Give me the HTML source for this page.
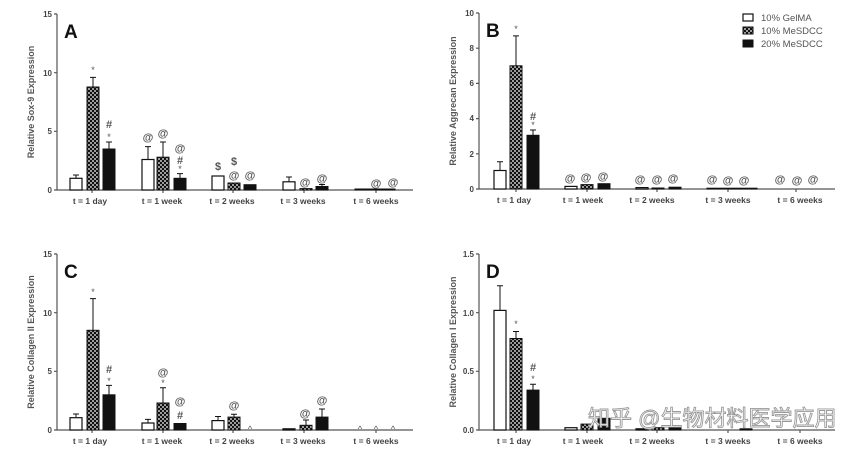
<!DOCTYPE html>
<html><head><meta charset="utf-8"><style>
html,body{margin:0;padding:0;background:#fff;}
svg{display:block;}
text{font-family:"Liberation Sans",sans-serif;}
.t{font-size:8px;fill:#444;font-weight:bold;}
.c{font-size:8.5px;font-weight:bold;fill:#444;text-anchor:middle;}
.y{font-size:9px;font-weight:bold;fill:#555;text-anchor:middle;}
.P{font-size:19px;font-weight:bold;fill:#111;}
.a{font-size:11px;fill:#555;text-anchor:middle;font-weight:bold;}
.s{font-size:9px;fill:#555;text-anchor:middle;}
.ax{stroke:#555;stroke-width:1.2;fill:none;}
.w{fill:#fff;stroke:#111;stroke-width:1.2;}
.k{fill:url(#chk);stroke:#111;stroke-width:1;}
.b{fill:#111;stroke:#111;stroke-width:1;}
.e{stroke:#111;stroke-width:1;}
</style></head><body>
<svg width="865" height="453" viewBox="0 0 865 453" xmlns="http://www.w3.org/2000/svg">
<defs>
<pattern id="chk" width="4" height="4" patternUnits="userSpaceOnUse">
<rect width="4" height="4" fill="#111"/>
<circle cx="1" cy="1" r="0.9" fill="#fff"/><circle cx="3" cy="3" r="0.9" fill="#fff"/>
</pattern>
</defs>

<!-- ===== Panel A ===== -->
<g>
<path class="ax" d="M57,14 V190 H413"/>
<path class="ax" d="M54,14H57M54,72.7H57M54,131.3H57M54,190H57"/>
<text class="t" x="52" y="17" text-anchor="end">15</text>
<text class="t" x="52" y="76" text-anchor="end">10</text>
<text class="t" x="52" y="134" text-anchor="end">5</text>
<text class="t" x="52" y="193" text-anchor="end">0</text>
<text class="y" transform="translate(34,102) rotate(-90)">Relative Sox-9  Expression</text>
<text class="P" x="64" y="38">A</text>
<path class="ax" d="M92,190v3M163,190v3M233,190v3M304,190v3M376,190v3"/>
<text class="c" x="90" y="204">t = 1 day</text>
<text class="c" x="162" y="204">t = 1 week</text>
<text class="c" x="232" y="204">t = 2 weeks</text>
<text class="c" x="303" y="204">t = 3 weeks</text>
<text class="c" x="376" y="204">t = 6 weeks</text>
<path class="e" d="M76,178V175M73,175H79M93,87V77.4M90,77.4H96M109,149V142M106,142H112"/>
<rect class="w" x="70" y="178.3" width="12" height="11.7"/>
<rect class="k" x="87" y="87" width="12" height="103"/>
<rect class="b" x="103" y="149" width="12" height="41"/>
<path class="e" d="M148,159V146.6M145,146.6H151M163,157V142M160,142H166M180,178V173.6M177,173.6H183"/>
<rect class="w" x="142" y="159.5" width="12" height="30.5"/>
<rect class="k" x="157" y="157.2" width="12" height="32.8"/>
<rect class="b" x="174" y="178.3" width="12" height="11.7"/>
<rect class="w" x="212" y="176" width="12" height="14"/>
<rect class="k" x="228" y="183" width="12" height="7"/>
<rect class="b" x="244" y="184.7" width="12" height="5.3"/>
<path class="e" d="M289,182V177M286,177H292M322,186V184.5M319,184.5H325"/>
<rect class="w" x="283" y="181.8" width="12" height="8.2"/>
<rect class="k" x="300" y="188.6" width="12" height="1.4"/>
<rect class="b" x="316" y="186.5" width="12" height="3.5"/>
<rect class="b" x="355" y="189" width="40" height="1"/>
<text class="s" x="93" y="73">*</text>
<text class="a" x="109" y="128">#</text><text class="s" x="109" y="140">*</text>
<text class="a" x="148" y="141">@</text><text class="a" x="163" y="137">@</text>
<text class="a" x="180" y="152">@</text><text class="a" x="180" y="164">#</text><text class="s" x="180" y="172">*</text>
<text class="a" x="218" y="170">$</text><text class="a" x="234" y="165">$</text>
<text class="a" x="234" y="179">@</text><text class="a" x="250" y="179">@</text>
<text class="a" x="305" y="186">@</text><text class="a" x="322" y="182">@</text>
<text class="a" x="376" y="187">@</text><text class="a" x="393" y="186">@</text>
</g>

<!-- ===== Panel B ===== -->
<g>
<path class="ax" d="M479,13 V189 H835"/>
<path class="ax" d="M476,13H479M476,48.2H479M476,83.4H479M476,118.6H479M476,153.8H479M476,189H479"/>
<text class="t" x="474" y="16" text-anchor="end">10</text>
<text class="t" x="474" y="51" text-anchor="end">8</text>
<text class="t" x="474" y="86" text-anchor="end">6</text>
<text class="t" x="474" y="121" text-anchor="end">4</text>
<text class="t" x="474" y="157" text-anchor="end">2</text>
<text class="t" x="474" y="192" text-anchor="end">0</text>
<text class="y" transform="translate(456,101) rotate(-90)">Relative Aggrecan Expression</text>
<text class="P" x="486" y="37">B</text>
<path class="ax" d="M516,189v3M587,189v3M657,189v3M728,189v3M796,189v3"/>
<text class="c" x="514" y="203">t = 1 day</text>
<text class="c" x="583" y="203">t = 1 week</text>
<text class="c" x="652" y="203">t = 2 weeks</text>
<text class="c" x="728" y="203">t = 3 weeks</text>
<text class="c" x="800" y="203">t = 6 weeks</text>
<path class="e" d="M500,170V161.7M497,161.7H503M516,66V35.9M513,35.9H519M533,135V130M530,130H536"/>
<rect class="w" x="494" y="170.5" width="12" height="18.5"/>
<rect class="k" x="510" y="65.8" width="12" height="123.2"/>
<rect class="b" x="527" y="135.3" width="12" height="53.7"/>
<rect class="w" x="565" y="186.4" width="12" height="2.6"/>
<rect class="k" x="581" y="184.6" width="12" height="4.4"/>
<rect class="b" x="598" y="183.7" width="12" height="5.3"/>
<rect class="w" x="636" y="187.6" width="12" height="1.4"/>
<rect class="k" x="652" y="188" width="12" height="1"/>
<rect class="b" x="669" y="187.2" width="12" height="1.8"/>
<rect class="b" x="707" y="188.2" width="50" height="0.8"/>
<text class="s" x="516" y="32">*</text>
<text class="a" x="533" y="120">#</text><text class="s" x="533" y="128">*</text>
<text class="a" x="570" y="182">@</text><text class="a" x="586" y="181">@</text><text class="a" x="603" y="180">@</text>
<text class="a" x="640" y="183">@</text><text class="a" x="657" y="183">@</text><text class="a" x="673" y="182">@</text>
<text class="a" x="712" y="183">@</text><text class="a" x="728" y="184">@</text><text class="a" x="744" y="184">@</text>
<text class="a" x="780" y="183">@</text><text class="a" x="797" y="184">@</text><text class="a" x="813" y="183">@</text>
<rect class="w" x="743" y="14" width="10" height="7"/>
<rect class="k" x="743" y="27" width="10" height="7"/>
<rect class="b" x="743" y="40" width="10" height="7"/>
<text x="761" y="21" style="font-size:9.5px;fill:#555">10% GelMA</text>
<text x="761" y="34" style="font-size:9.5px;fill:#555">10% MeSDCC</text>
<text x="761" y="47" style="font-size:9.5px;fill:#555">20% MeSDCC</text>
</g>

<!-- ===== Panel C ===== -->
<g>
<path class="ax" d="M57,254 V430 H413"/>
<path class="ax" d="M54,254H57M54,312.7H57M54,371.3H57M54,430H57"/>
<text class="t" x="52" y="257" text-anchor="end">15</text>
<text class="t" x="52" y="316" text-anchor="end">10</text>
<text class="t" x="52" y="374" text-anchor="end">5</text>
<text class="t" x="52" y="433" text-anchor="end">0</text>
<text class="y" transform="translate(34,342) rotate(-90)">Relative Collagen II Expression</text>
<text class="P" x="64" y="278">C</text>
<path class="ax" d="M92,430v3M163,430v3M233,430v3M304,430v3M376,430v3"/>
<text class="c" x="90" y="444">t = 1 day</text>
<text class="c" x="162" y="444">t = 1 week</text>
<text class="c" x="232" y="444">t = 2 weeks</text>
<text class="c" x="303" y="444">t = 3 weeks</text>
<text class="c" x="376" y="444">t = 6 weeks</text>
<path class="e" d="M76,417V414M73,414H79M93,330V298.6M90,298.6H96M109,395V385.4M106,385.4H112"/>
<rect class="w" x="70" y="417.7" width="12" height="12.3"/>
<rect class="k" x="87" y="330.3" width="12" height="99.7"/>
<rect class="b" x="103" y="394.8" width="12" height="35.2"/>
<path class="e" d="M148,423V419.4M145,419.4H151M163,403V387.8M160,387.8H166"/>
<rect class="w" x="142" y="423" width="12" height="7"/>
<rect class="k" x="157" y="403" width="12" height="27"/>
<rect class="b" x="174" y="423.5" width="12" height="6.5"/>
<path class="e" d="M218,420V416.5M215,416.5H221M234,417V414.2M231,414.2H237"/>
<rect class="w" x="212" y="420.6" width="12" height="9.4"/>
<rect class="k" x="228" y="417.1" width="12" height="12.9"/>
<path class="e" d="M306,425V420M303,420H309M322,417V409M319,409H325"/>
<rect class="w" x="283" y="428.8" width="12" height="1.2"/>
<rect class="k" x="300" y="425.3" width="12" height="4.7"/>
<rect class="b" x="316" y="417.1" width="12" height="12.9"/>
<text class="s" x="93" y="295">*</text>
<text class="a" x="109" y="373">#</text><text class="s" x="109" y="384">*</text>
<text class="a" x="163" y="376">@</text><text class="s" x="163" y="386">*</text>
<text class="a" x="180" y="405">@</text><text class="a" x="180" y="419">#</text>
<text class="a" x="234" y="409">@</text><text class="s" x="250" y="432">^</text>
<text class="a" x="305" y="417">@</text><text class="a" x="322" y="404">@</text>
<text class="s" x="360" y="432">^</text><text class="s" x="376" y="432">^</text><text class="s" x="393" y="432">^</text>
</g>

<!-- ===== Panel D ===== -->
<g>
<path class="ax" d="M479,254 V430 H835"/>
<path class="ax" d="M476,254H479M476,312.7H479M476,371.3H479M476,430H479"/>
<text class="t" x="474" y="257" text-anchor="end">1.5</text>
<text class="t" x="474" y="316" text-anchor="end">1.0</text>
<text class="t" x="474" y="374" text-anchor="end">0.5</text>
<text class="t" x="474" y="433" text-anchor="end">0.0</text>
<text class="y" transform="translate(456,342) rotate(-90)">Relative Collagen  I Expression</text>
<text class="P" x="486" y="278">D</text>
<path class="ax" d="M516,430v3M587,430v3M657,430v3M728,430v3M800,430v3"/>
<text class="c" x="514" y="444">t = 1 day</text>
<text class="c" x="583" y="444">t = 1 week</text>
<text class="c" x="652" y="444">t = 2 weeks</text>
<text class="c" x="728" y="444">t = 3 weeks</text>
<text class="c" x="800" y="444">t = 6 weeks</text>
<path class="e" d="M500,310V285.7M497,285.7H503M516,338V331.5M513,331.5H519M533,390V384.3M530,384.3H536"/>
<rect class="w" x="494" y="310.4" width="12" height="119.6"/>
<rect class="k" x="510" y="338.5" width="12" height="91.5"/>
<rect class="b" x="527" y="390.1" width="12" height="39.9"/>
<rect class="w" x="565" y="427.7" width="12" height="2.3"/>
<rect class="k" x="581" y="424.1" width="12" height="5.9"/>
<rect class="b" x="598" y="418.3" width="12" height="11.7"/>
<rect class="w" x="636" y="428.8" width="12" height="1.2"/>
<rect class="k" x="652" y="427.7" width="12" height="2.3"/>
<rect class="b" x="669" y="427" width="12" height="3"/>
<rect class="b" x="740" y="428.8" width="12" height="1.2"/>
<text class="s" x="516" y="327">*</text>
<text class="a" x="533" y="371">#</text><text class="s" x="533" y="382">*</text>
<text x="588" y="426" style="font-size:22px;fill:#fff;stroke:#999;stroke-width:0.9;font-family:'Liberation Sans','Noto Sans CJK SC',sans-serif">知乎 @生物材料医学应用</text>
</g>
</svg>
</body></html>
